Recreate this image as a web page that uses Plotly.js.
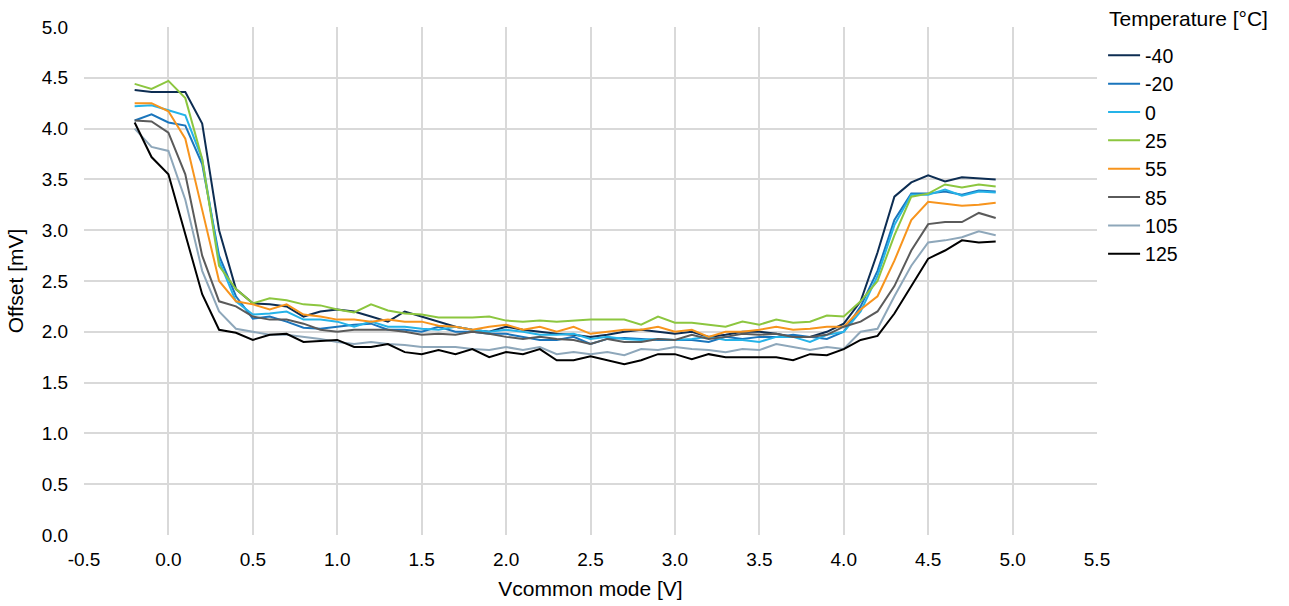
<!DOCTYPE html>
<html>
<head>
<meta charset="utf-8">
<script src="https://cdn.plot.ly/plotly-3.0.1.min.js"></script>
<style>html,body{margin:0;padding:0;background:#fff;}#chart{width:1289px;height:606px;}</style>
</head>
<body>
<div id="chart"></div>
<script>
const vcm = [-0.2,-0.1,0.0,0.1,0.2,0.3,0.4,0.5,0.6,0.7,0.8,0.9,1.0,1.1,1.2,1.3,1.4,1.5,1.6,1.7,1.8,1.9,2.0,2.1,2.2,2.3,2.4,2.5,2.6,2.7,2.8,2.9,3.0,3.1,3.2,3.3,3.4,3.5,3.6,3.7,3.8,3.9,4.0,4.1,4.2,4.3,4.4,4.5,4.6,4.7,4.8,4.9];
const temps = ["-40","-20","0","25","55","85","105","125"];
const colors = ["#0d2d52","#1a75bc","#25b3e8","#8cc63f","#f7941d","#5a5a5a","#8ea7ba","#000000"];

const offM40 = [4.38,4.36,4.36,4.36,4.05,3.00,2.42,2.28,2.27,2.25,2.15,2.20,2.22,2.20,2.15,2.10,2.20,2.15,2.10,2.05,2.02,2.00,2.05,2.02,2.00,1.98,1.97,1.95,1.97,2.00,2.02,2.00,1.98,2.00,1.95,1.97,2.00,2.00,1.98,1.95,1.95,2.00,2.08,2.30,2.78,3.33,3.47,3.54,3.48,3.52,3.51,3.50];
const offM20 = [4.08,4.14,4.06,4.03,3.65,2.75,2.35,2.13,2.15,2.10,2.04,2.03,2.05,2.07,2.08,2.02,2.02,2.00,2.05,2.00,2.00,1.98,1.98,1.95,1.92,1.92,1.95,1.88,1.93,1.94,1.93,1.92,1.92,1.92,1.90,1.95,1.93,1.95,1.95,1.97,1.95,1.93,2.00,2.25,2.60,3.10,3.36,3.36,3.38,3.35,3.39,3.38];
const off0 = [4.22,4.23,4.18,4.13,3.70,2.70,2.30,2.17,2.18,2.20,2.12,2.12,2.10,2.05,2.10,2.05,2.05,2.03,2.02,2.05,2.02,2.00,2.02,2.00,1.97,1.97,1.98,1.93,1.95,1.93,1.92,1.93,1.92,1.93,1.95,1.92,1.92,1.90,1.95,1.95,1.90,1.97,2.00,2.20,2.55,3.05,3.35,3.35,3.40,3.34,3.38,3.37];
const off25 = [4.44,4.39,4.47,4.30,3.70,2.65,2.42,2.28,2.33,2.31,2.27,2.26,2.22,2.19,2.27,2.21,2.18,2.17,2.14,2.14,2.14,2.15,2.11,2.10,2.11,2.10,2.11,2.12,2.12,2.12,2.07,2.15,2.09,2.09,2.07,2.05,2.10,2.07,2.12,2.09,2.10,2.16,2.15,2.30,2.50,2.95,3.33,3.36,3.45,3.42,3.45,3.43];
const off55 = [4.25,4.25,4.17,3.90,3.20,2.50,2.30,2.27,2.22,2.27,2.17,2.15,2.12,2.12,2.10,2.12,2.10,2.10,2.06,2.05,2.02,2.05,2.07,2.02,2.05,2.00,2.05,1.98,2.00,2.02,2.02,2.05,2.00,2.02,1.95,2.00,2.00,2.02,2.05,2.02,2.03,2.05,2.05,2.22,2.35,2.70,3.10,3.28,3.26,3.24,3.25,3.27];
const off85 = [4.08,4.07,3.96,3.55,2.75,2.30,2.25,2.15,2.12,2.12,2.08,2.02,2.00,2.02,2.02,2.02,2.00,1.97,1.98,1.97,2.00,1.98,1.95,1.93,1.95,1.93,1.92,1.88,1.93,1.90,1.90,1.93,1.92,1.97,1.93,1.95,1.98,1.97,1.98,1.95,1.95,1.97,2.05,2.10,2.20,2.45,2.80,3.06,3.08,3.08,3.17,3.12];
const off105 = [4.00,3.82,3.78,3.30,2.60,2.20,2.03,2.00,1.97,1.97,1.95,1.93,1.90,1.88,1.90,1.88,1.87,1.85,1.85,1.85,1.83,1.82,1.85,1.82,1.85,1.78,1.80,1.78,1.80,1.77,1.83,1.82,1.85,1.83,1.82,1.80,1.83,1.82,1.88,1.85,1.82,1.85,1.83,2.00,2.03,2.35,2.65,2.88,2.90,2.93,2.99,2.95];
const off125 = [4.06,3.72,3.55,2.95,2.37,2.02,1.99,1.92,1.97,1.98,1.90,1.91,1.92,1.85,1.85,1.88,1.80,1.78,1.82,1.78,1.83,1.75,1.80,1.78,1.83,1.72,1.72,1.76,1.72,1.68,1.72,1.78,1.78,1.73,1.78,1.75,1.75,1.75,1.75,1.72,1.78,1.77,1.83,1.92,1.96,2.18,2.45,2.72,2.80,2.90,2.88,2.89];

const series = [offM40, offM20, off0, off25, off55, off85, off105, off125];
const xTicks = [-0.5,0.0,0.5,1.0,1.5,2.0,2.5,3.0,3.5,4.0,4.5,5.0,5.5];
const yTicks = [0.0,0.5,1.0,1.5,2.0,2.5,3.0,3.5,4.0,4.5,5.0];
const legendTitle = 'Temperature [°C]';

const FONT = "Arial, 'Liberation Sans', sans-serif";
const traces = series.map((ys, i) => ({
  x: vcm, y: ys, type: 'scatter', mode: 'lines', name: temps[i],
  line: {color: colors[i], width: 2}
}));

const layout = {
  width: 1289, height: 606,
  margin: {l: 84, r: 192, t: 27, b: 71, autoexpand: false},
  paper_bgcolor: '#fff', plot_bgcolor: '#fff',
  font: {family: FONT, color: '#000'},
  xaxis: {
    range: [-0.5, 5.5], tickvals: xTicks, ticktext: xTicks.map(v => v.toFixed(1)),
    showgrid: true, gridcolor: '#d9d9d9', gridwidth: 2,
    zeroline: false, showline: false, ticks: 'outside', ticklen: 7, tickcolor: 'rgba(0,0,0,0)',
    tickfont: {size: 19, family: FONT, color: '#000'},
    title: {text: 'Vcommon mode [V]', font: {size: 21, family: FONT, color: '#000'}, standoff: 12}
  },
  yaxis: {
    range: [0, 5], tickvals: yTicks, ticktext: yTicks.map(v => v.toFixed(1)),
    showgrid: true, gridcolor: '#d9d9d9', gridwidth: 2,
    zeroline: false, showline: false, ticks: 'outside', ticklen: 11, tickcolor: 'rgba(0,0,0,0)',
    tickfont: {size: 19, family: FONT, color: '#000'},
    title: {text: 'Offset [mV]', font: {size: 21, family: FONT, color: '#000'}, standoff: 12}
  },
  annotations: [{
    text: legendTitle, xref: 'paper', yref: 'paper', x: 1.0095, y: 1.0177,
    xanchor: 'left', yanchor: 'middle', showarrow: false,
    font: {size: 21, family: FONT, color: '#000'}
  }],
  showlegend: true,
  legend: {
    x: 1.006, y: 0.982, xanchor: 'left', yanchor: 'top',
    font: {size: 19.5, family: FONT, color: '#000'},
    tracegroupgap: 0, itemwidth: 32, bgcolor: 'rgba(0,0,0,0)'
  }
};

Plotly.newPlot('chart', traces, layout, {displayModeBar: false, staticPlot: true});
</script>
</body>
</html>
